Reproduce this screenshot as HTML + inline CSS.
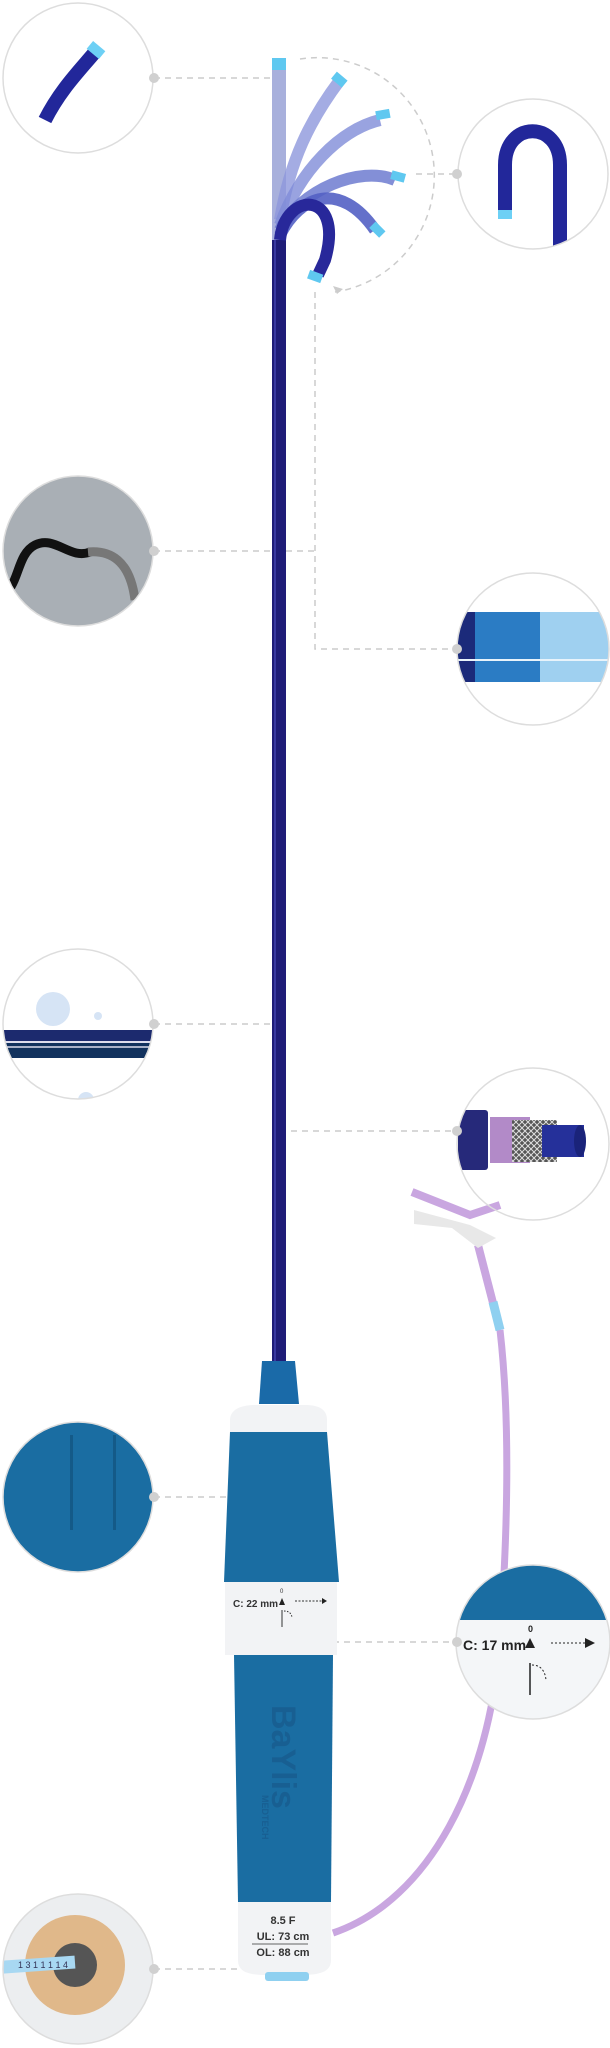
<!DOCTYPE html>
<html><head><meta charset="utf-8"><style>
html,body{margin:0;padding:0;background:#fff;}
svg{display:block}
text{font-family:"Liberation Sans",sans-serif;}
</style></head><body>
<svg width="610" height="2048" viewBox="0 0 610 2048" xmlns="http://www.w3.org/2000/svg">
<defs>
<clipPath id="c1"><circle cx="78" cy="78" r="75"/></clipPath>
<clipPath id="c2"><circle cx="533" cy="174" r="75"/></clipPath>
<clipPath id="c3"><circle cx="78" cy="551" r="75"/></clipPath>
<clipPath id="c4"><circle cx="533" cy="649" r="76"/></clipPath>
<clipPath id="c5"><circle cx="78" cy="1024" r="75"/></clipPath>
<clipPath id="c6"><circle cx="533" cy="1144" r="76"/></clipPath>
<clipPath id="c7"><circle cx="78" cy="1497" r="75"/></clipPath>
<clipPath id="c8"><circle cx="533" cy="1642" r="77"/></clipPath>
<clipPath id="c9"><circle cx="78" cy="1969" r="75"/></clipPath>
<pattern id="mesh" width="6" height="6" patternUnits="userSpaceOnUse"><rect width="6" height="6" fill="#555"/><path d="M0 0L6 6M6 0L0 6" stroke="#ddd" stroke-width="1"/></pattern>
</defs>

<g stroke="#ccc" stroke-width="1.5" stroke-dasharray="6 5" fill="none">
<line x1="154" y1="78" x2="272" y2="78"/>
<path d="M300 59 A115 116 0 0 1 335 292"/>
<line x1="416" y1="174" x2="457" y2="174"/>
<line x1="154" y1="551" x2="315" y2="551"/>
<path d="M315 292 V649 H457"/>
<line x1="154" y1="1024" x2="276" y2="1024"/>
<line x1="280" y1="1131" x2="457" y2="1131"/>
<line x1="154" y1="1497" x2="278" y2="1497"/>
<line x1="278" y1="1642" x2="457" y2="1642"/>
<line x1="154" y1="1969" x2="278" y2="1969"/>
</g>
<path d="M333 286 L343 289 L337 294 Z" fill="#ccc"/>

<!-- purple tube -->
<path d="M333 1933 C430 1900 490 1780 500 1640 C510 1500 508 1400 500 1330" stroke="#c9a6e0" stroke-width="7" fill="none"/>
<path d="M478 1245 L500 1330" stroke="#c9a6e0" stroke-width="8"/>
<path d="M493 1302 L500 1330" stroke="#8fd0f0" stroke-width="9"/>
<path d="M412 1192 L470 1215 L500 1205" stroke="#c9a6e0" stroke-width="8" fill="none"/>
<path d="M414 1210 L470 1225 L496 1238 L478 1248 L452 1228 L414 1224Z" fill="#e8e8e8"/>

<!-- shaft -->
<rect x="272" y="69" width="14" height="175" fill="#a8b0dc"/>
<rect x="272" y="240" width="14" height="1125" fill="#1f1d78"/>
<rect x="274" y="240" width="2" height="1125" fill="#3a39a0"/>
<rect x="272" y="58" width="14" height="12" fill="#5fc8f0"/>
<g fill="none" stroke-width="12" stroke-linecap="butt">
<path d="M280 220 C290 160 310 120 340 80" stroke="#8d97dc" opacity=".8"/>
<path d="M280 225 C300 170 340 130 380 120" stroke="#7f8cd8" opacity=".8"/>
<path d="M280 230 C300 190 360 165 395 180" stroke="#6d7bd0" opacity=".85"/>
<path d="M280 235 C300 195 340 180 375 230" stroke="#5360c4" opacity=".9"/>
<path d="M280 240 C285 190 345 190 325 260 L318 275" stroke="#28289a"/>
</g>
<g fill="#5fc8f0">
<rect x="332" y="75" width="14" height="9" transform="rotate(40 339 80)"/>
<rect x="376" y="110" width="14" height="9" transform="rotate(-10 383 115)"/>
<rect x="391" y="172" width="14" height="9" transform="rotate(15 398 177)"/>
<rect x="370" y="225" width="14" height="9" transform="rotate(45 377 230)"/>
<rect x="308" y="272" width="14" height="9" transform="rotate(20 315 277)"/>
</g>

<!-- circles contents -->
<g clip-path="url(#c1)"><path d="M45 120 C60 90 80 70 95 52" stroke="#22279a" stroke-width="14" fill="none"/><rect x="88" y="45" width="16" height="10" fill="#6dd0f5" transform="rotate(40 96 50)"/></g>
<g clip-path="url(#c2)"><path d="M505 215 V165 C505 120 560 120 560 165 V250" stroke="#22279a" stroke-width="14" fill="none"/><rect x="498" y="210" width="14" height="9" fill="#6dd0f5"/></g>
<g clip-path="url(#c3)"><rect x="0" y="470" width="160" height="160" fill="#a9afb5"/><path d="M0 595 C20 590 15 555 35 545 C55 535 70 560 90 552" stroke="#111" stroke-width="9" fill="none"/><path d="M88 552 C110 550 130 560 135 600" stroke="#777" stroke-width="9" fill="none"/></g>
<g clip-path="url(#c4)"><rect x="455" y="612" width="160" height="70" fill="#9fd0f0"/><rect x="455" y="612" width="85" height="70" fill="#2b7cc4"/><rect x="455" y="612" width="20" height="70" fill="#1b2a7a"/><line x1="455" y1="660" x2="610" y2="660" stroke="#e8f3fb" stroke-width="2"/></g>
<g clip-path="url(#c5)"><rect x="0" y="1030" width="160" height="28" fill="#12325e"/><rect x="0" y="1030" width="160" height="12" fill="#1c2a6e"/><line x1="0" y1="1042" x2="160" y2="1042" stroke="#dde" stroke-width="2"/><line x1="0" y1="1047" x2="160" y2="1047" stroke="#dde" stroke-width="1.5"/><circle cx="53" cy="1009" r="17" fill="#d6e4f5"/><circle cx="98" cy="1016" r="4" fill="#d6e4f5"/><circle cx="86" cy="1100" r="8" fill="#d6e4f5"/></g>
<g clip-path="url(#c6)"><rect x="458" y="1110" width="30" height="60" rx="3" fill="#26297a"/><rect x="490" y="1117" width="40" height="46" fill="#b28ac8"/><rect x="512" y="1120" width="45" height="42" fill="url(#mesh)"/><rect x="542" y="1125" width="42" height="32" fill="#25309a"/><ellipse cx="580" cy="1141" rx="6" ry="16" fill="#1a237a"/></g>
<g clip-path="url(#c7)"><rect x="0" y="1410" width="160" height="170" fill="#1a6da2"/><rect x="70" y="1435" width="3" height="95" fill="#145a88"/><rect x="113" y="1435" width="3" height="95" fill="#145a88"/></g>
<g clip-path="url(#c8)"><rect x="455" y="1560" width="160" height="60" fill="#1a6da2"/><rect x="455" y="1620" width="160" height="110" fill="#f4f6f8"/><text x="463" y="1650" font-size="14" font-weight="bold" fill="#222">C: 17 mm</text><text x="528" y="1632" font-size="9" font-weight="bold" fill="#222">0</text><path d="M525 1648 L530 1638 L535 1648 Z" fill="#222"/><line x1="551" y1="1643" x2="585" y2="1643" stroke="#222" stroke-dasharray="2 2"/><path d="M585 1638 L595 1643 L585 1648Z" fill="#222"/><line x1="530" y1="1663" x2="530" y2="1695" stroke="#222" stroke-width="1.5"/><path d="M532 1665 C540 1665 545 1670 546 1680" stroke="#222" stroke-dasharray="2 2" fill="none"/></g>
<g clip-path="url(#c9)"><rect x="0" y="1890" width="160" height="160" fill="#eceef0"/><circle cx="75" cy="1965" r="50" fill="#e0b88a"/><circle cx="75" cy="1965" r="22" fill="#555"/><rect x="0" y="1958" width="75" height="13" fill="#a8d8f2" transform="rotate(-4 40 1964)"/><text x="18" y="1968" font-size="9" fill="#335">1 3 1 1 1 1 4</text></g>

<g fill="none" stroke="#ddd" stroke-width="1.5">
<circle cx="78" cy="78" r="75"/><circle cx="533" cy="174" r="75"/><circle cx="78" cy="551" r="75"/><circle cx="533" cy="649" r="76"/><circle cx="78" cy="1024" r="75"/><circle cx="533" cy="1144" r="76"/><circle cx="78" cy="1497" r="75"/><circle cx="533" cy="1642" r="77"/><circle cx="78" cy="1969" r="75"/>
</g>
<g fill="#d0d0d0">
<circle cx="154" cy="78" r="5"/><circle cx="457" cy="174" r="5"/><circle cx="154" cy="551" r="5"/><circle cx="457" cy="649" r="5"/><circle cx="154" cy="1024" r="5"/><circle cx="457" cy="1131" r="5"/><circle cx="154" cy="1497" r="5"/><circle cx="457" cy="1642" r="5"/><circle cx="154" cy="1969" r="5"/>
</g>

<!-- handle -->
<path d="M262 1361 H295 L299 1404 H259 Z" fill="#1a6aa8"/>
<path d="M230 1434 V1420 C230 1410 240 1405 255 1405 H305 C320 1405 327 1410 327 1420 V1434 Z" fill="#f2f3f5"/>
<path d="M230 1432 H327 L339 1582 H224 Z" fill="#1a6da2"/>
<rect x="225" y="1582" width="112" height="73" fill="#f2f3f5"/>
<text x="233" y="1607" font-size="10" font-weight="bold" fill="#333">C: 22 mm</text>
<text x="280" y="1593" font-size="6" fill="#333">0</text>
<path d="M279 1605 L282 1598 L285 1605Z" fill="#222"/>
<line x1="295" y1="1601" x2="322" y2="1601" stroke="#333" stroke-dasharray="2 1.5"/>
<path d="M322 1598 L327 1601 L322 1604Z" fill="#222"/>
<line x1="282" y1="1610" x2="282" y2="1627" stroke="#333"/>
<path d="M284 1611 C289 1611 292 1614 292 1618" stroke="#333" stroke-dasharray="1.5 1.5" fill="none"/>
<path d="M234 1655 H333 L331 1902 H238 Z" fill="#1a6da2"/>
<text transform="translate(272 1705) rotate(90)" font-size="34" font-weight="bold" fill="#185f92">BaYlis</text>
<text transform="translate(262 1795) rotate(90)" font-size="9" font-weight="bold" fill="#185f92">MEDTECH</text>
<path d="M238 1902 H331 V1960 C331 1972 320 1975 300 1975 H268 C248 1975 238 1972 238 1960 Z" fill="#f2f3f5"/>
<text x="283" y="1924" font-size="11" font-weight="bold" fill="#333" text-anchor="middle">8.5 F</text>
<text x="283" y="1940" font-size="11" font-weight="bold" fill="#333" text-anchor="middle">UL: 73 cm</text>
<line x1="252" y1="1944" x2="308" y2="1944" stroke="#333" stroke-width=".8"/>
<text x="283" y="1956" font-size="11" font-weight="bold" fill="#333" text-anchor="middle">OL: 88 cm</text>
<rect x="265" y="1972" width="44" height="9" rx="3" fill="#8fd0f0"/>
</svg>
</body></html>
